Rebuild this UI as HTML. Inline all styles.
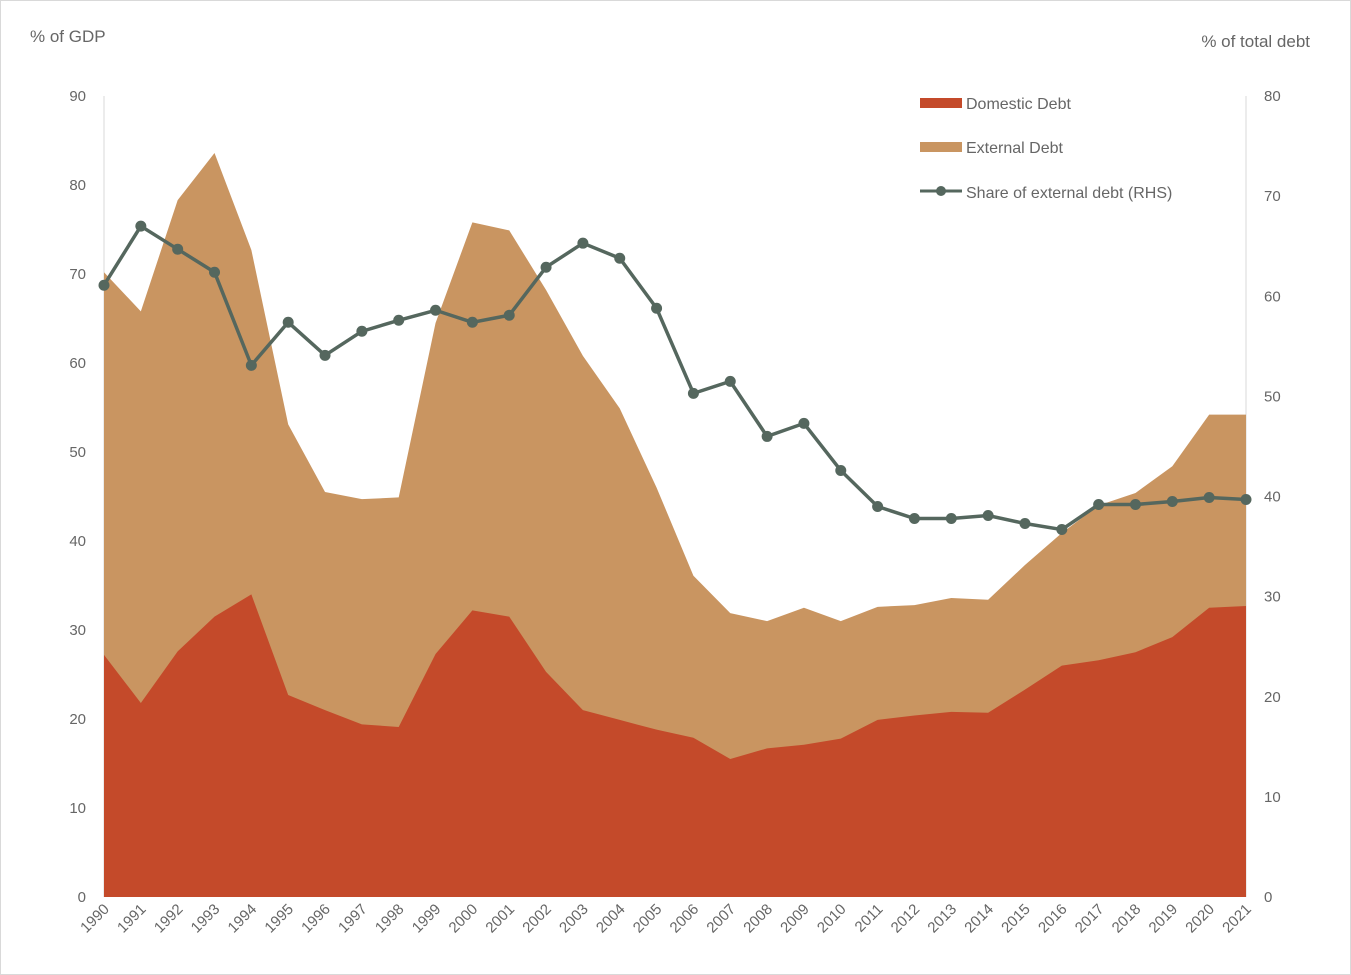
<!DOCTYPE html>
<html><head><meta charset="utf-8"><style>
html,body{margin:0;padding:0;background:#fff;}
svg{display:block;font-family:"Liberation Sans",sans-serif;}
text{fill:#666;font-size:15px;}
</style></head><body>
<svg id="chart" width="1351" height="975">
<rect x="0.5" y="0.5" width="1350" height="974" fill="#fff" stroke="#d9d9d9"/>
<g id="axes"></g>
<g id="areas"></g>
<g id="line"></g>
<text x="30" y="42" style="font-size:17px">% of GDP</text>
<text x="1310" y="47" text-anchor="end" style="font-size:17px">% of total debt</text>
<g>
<rect x="920" y="98" width="42" height="10" fill="#c44a2a"/>
<text x="966" y="109" style="font-size:16px">Domestic Debt</text>
<rect x="920" y="142" width="42" height="10" fill="#c99561"/>
<text x="966" y="153" style="font-size:16px">External Debt</text>
<line x1="920" y1="191" x2="962" y2="191" stroke="#55675e" stroke-width="3"/>
<circle cx="941" cy="191" r="5" fill="#55675e"/>
<text x="966" y="198" style="font-size:16px">Share of external debt (RHS)</text>
</g>
</svg>
<script>
const years=[1990,1991,1992,1993,1994,1995,1996,1997,1998,1999,2000,2001,2002,2003,2004,2005,2006,2007,2008,2009,2010,2011,2012,2013,2014,2015,2016,2017,2018,2019,2020,2021];
const domestic=[27.2,21.8,27.6,31.5,34,22.7,21,19.4,19.1,27.3,32.2,31.5,25.3,21,19.9,18.8,17.9,15.5,16.7,17.1,17.8,19.9,20.4,20.8,20.7,23.3,26,26.6,27.5,29.2,32.5,32.7];
const total=[70.2,65.8,78.3,83.6,72.7,53.1,45.5,44.7,44.9,64.5,75.8,74.9,68.2,60.8,54.9,46,36.1,31.9,31,32.5,31,32.6,32.8,33.6,33.4,37.3,40.9,44,45.4,48.4,54.2,54.2];
const share=[61.1,67,64.7,62.4,53.1,57.4,54.1,56.5,57.6,58.6,57.4,58.1,62.9,65.3,63.8,58.8,50.3,51.5,46,47.3,42.6,39,37.8,37.8,38.1,37.3,36.7,39.2,39.2,39.5,39.9,39.7];
const leftTicks=[0,10,20,30,40,50,60,70,80,90];
const rightTicks=[0,10,20,30,40,50,60,70,80];
const NS="http://www.w3.org/2000/svg";
const x=i=>104+i*(1246-104)/(years.length-1);
const yL=v=>897-v*(897-96)/90;
const yR=v=>897-v*(897-96)/80;
function mk(tag,attrs,parent,txt){const e=document.createElementNS(NS,tag);for(const k in attrs)e.setAttribute(k,attrs[k]);if(txt!==undefined)e.textContent=txt;parent.appendChild(e);return e;}
const axes=document.getElementById('axes'),areas=document.getElementById('areas'),line=document.getElementById('line');
let e=mk('line',{x1:104,y1:96,x2:104,y2:897,stroke:'#d9d9d9'},axes);


e=mk('line',{x1:1246,y1:96,x2:1246,y2:897,stroke:'#d9d9d9'},axes);


leftTicks.forEach(v=>{const t=mk('text',{x:86,y:yL(v)+5,'text-anchor':'end'},axes,v);

});
rightTicks.forEach(v=>{const t=mk('text',{x:1264,y:yR(v)+5},axes,v);

});
years.forEach((yr,i)=>{const t=mk('text',{x:x(i)+6,y:910,'text-anchor':'end',transform:`rotate(-45 ${x(i)+6} 910)`},axes,yr);

});
let pTot='M'+x(0)+','+yL(0);years.forEach((_,i)=>pTot+=' L'+x(i)+','+yL(total[i]));pTot+=' L'+x(years.length-1)+','+yL(0)+'Z';
e=mk('path',{d:pTot,fill:'#c99561'},areas);


let pDom='M'+x(0)+','+yL(0);years.forEach((_,i)=>pDom+=' L'+x(i)+','+yL(domestic[i]));pDom+=' L'+x(years.length-1)+','+yL(0)+'Z';
e=mk('path',{d:pDom,fill:'#c44a2a'},areas);


e=mk('polyline',{points:share.map((v,i)=>x(i)+','+yR(v)).join(' '),fill:'none',stroke:'#55675e','stroke-width':3.5},line);


share.forEach((v,i)=>{const c=mk('circle',{cx:x(i),cy:yR(v),r:5.5,fill:'#55675e'},line);

});
</script>
</body></html>
